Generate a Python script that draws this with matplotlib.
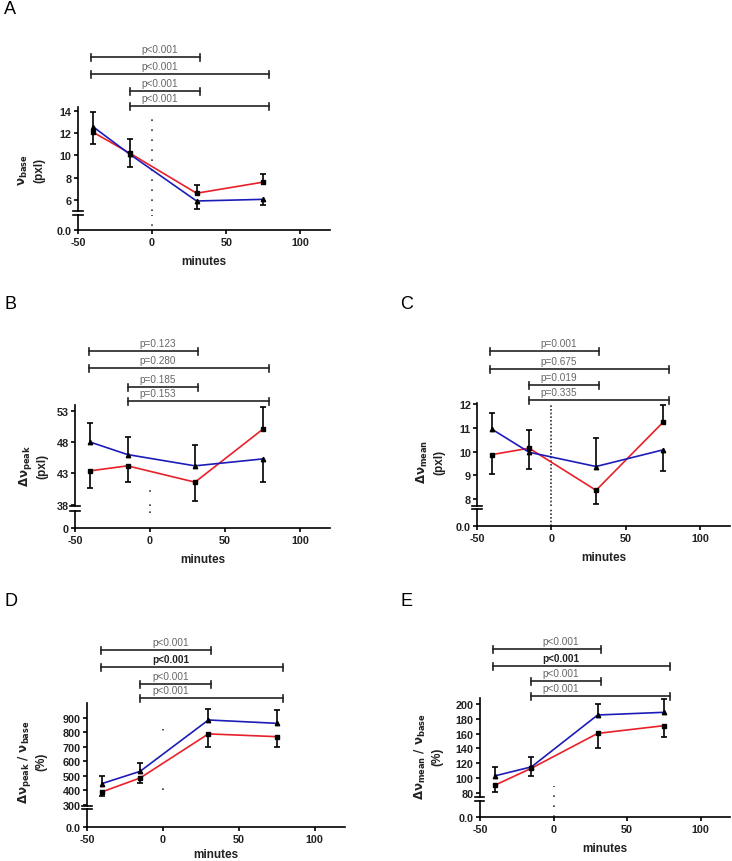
import numpy as np
import matplotlib.pyplot as plt
from matplotlib.transforms import blended_transform_factory

plt.rcParams['font.family'] = ['Liberation Sans', 'DejaVu Sans']
plt.rcParams['mathtext.fontset'] = 'dejavusans'

W, H = 732, 862

# time points (minutes)
times = [-40, -15, 30, 75]
bracket_pairs = [(-41, 32), (-41, 79), (-15, 32), (-15, 79)]

# A: v_base
base_blue = [12.6, 10.1, 5.9, 6.05]
base_red = [12.1, 10.2, 6.6, 7.6]
base_blue_err = [1.3, 1.1, 0.7, 0.5]
base_red_err = [1.1, 1.3, 0.7, 0.7]
base_p = ["p<0.001", "p<0.001", "p<0.001", "p<0.001"]

# B: delta v_peak
peak_blue = [48.0, 46.0, 44.2, 45.3]
peak_red = [43.4, 44.2, 41.6, 50.0]
peak_blue_err = [3.0, 2.8, 3.3, 3.6]
peak_red_err = [2.8, 2.6, 3.0, 3.6]
peak_p = ["p=0.123", "p=0.280", "p=0.185", "p=0.153"]

# C: delta v_mean
mean_blue = [10.94, 9.97, 9.37, 10.07]
mean_red = [9.87, 10.14, 8.37, 11.23]
mean_blue_err = [0.68, 0.7, 1.19, 0.87]
mean_red_err = [0.8, 0.76, 0.58, 0.73]
mean_p = ["p=0.001", "p=0.675", "p=0.019", "p=0.335"]

# D: delta v_peak / v_base (%)
peak_rel_blue = [448, 532, 886, 863]
peak_rel_red = [391, 486, 790, 771]
peak_rel_blue_err = [54, 55, 76, 92]
peak_rel_red_err = [31, 34, 92, 69]
peak_rel_p = ["p<0.001", "p<0.001", "p<0.001", "p<0.001"]

# E: delta v_mean / v_base (%)
mean_rel_blue = [103, 115.2, 185.1, 188.7]
mean_rel_red = [90.4, 113.4, 160.3, 170.7]
mean_rel_blue_err = [12, 13.5, 15, 18]
mean_rel_red_err = [8.4, 10.4, 19, 15]
mean_rel_p = ["p<0.001", "p<0.001", "p<0.001", "p<0.001"]

BLUE = '#1c1cb8'
RED = '#e8202a'
TICK_FS = 7.8


def fig_rect(left, right, top, bottom):
    return [left / W, 1 - bottom / H, (right - left) / W, (bottom - top) / H]


def break_mark(ax, y):
    ax.plot([-0.018, 0.018], [y, y], transform=ax.transAxes, color='black',
            lw=1.2, clip_on=False)


def draw_series(ax, y, err, up, color, marker):
    y = np.array(y, dtype=float)
    err = np.array(err, dtype=float)
    ends = np.where(up, y + err, y - err)
    ax.vlines(times, y, ends, color='black', lw=1.2, zorder=3)
    ax.plot(times, ends, ls='none', marker='_', ms=5, mew=1.2, color='black', zorder=3)
    ax.plot(times, y, color=color, lw=1.2, zorder=2)
    ax.plot(times, y, ls='none', marker=marker, ms=3.2, color='black', zorder=4)


def draw_panel(fig, letter, letter_xy, xpx, top_px, bot_px, ylim, yticks, zero_label,
               ylabel, ylabel_xy, blue, red, blue_err, red_err, pvals, bracket_y,
               dots_top=None, dots_bot=None, dot_style=':', bold_p=(), xlabelpad=6):
    ax = fig.add_axes(fig_rect(xpx[0], xpx[1], top_px[0], top_px[1]))
    axb = fig.add_axes(fig_rect(xpx[0], xpx[1], bot_px[0], bot_px[1]))

    for a in (ax, axb):
        a.set_xlim(-50, 120)
        a.patch.set_alpha(0)
        for s in ('top', 'right'):
            a.spines[s].set_visible(False)
        a.spines['left'].set_linewidth(1.2)
        a.tick_params(axis='y', length=3, width=1.2, labelsize=TICK_FS, pad=1.5)

    ax.spines['bottom'].set_visible(False)
    ax.set_xticks([])
    ax.set_ylim(*ylim)
    ax.set_yticks(yticks)
    ax.set_yticklabels([str(t) for t in yticks], fontweight='bold', fontsize=TICK_FS, color='#222222')

    axb.set_ylim(0, 1)
    axb.set_yticks([0])
    axb.set_yticklabels([zero_label], fontweight='bold', fontsize=TICK_FS, color='#222222')
    axb.spines['bottom'].set_linewidth(1.2)
    axb.set_xticks([-50, 0, 50, 100])
    axb.set_xticklabels(['-50', '0', '50', '100'], fontweight='bold', fontsize=TICK_FS, color='#222222')
    axb.tick_params(axis='x', length=3, width=1.2, pad=2)
    axb.set_xlabel('minutes', fontweight='bold', fontsize=8.5, labelpad=xlabelpad, color='#222222')

    break_mark(ax, 0)
    break_mark(axb, 1)

    # reference line at time 0
    if dots_top is not None:
        ax.vlines(0, dots_top[0], dots_top[1], color='#333333', lw=1.2, linestyles=dot_style, zorder=1)
    if dots_bot is not None:
        axb.vlines(0, dots_bot[0], dots_bot[1], color='#333333', lw=1.2, linestyles=dot_style, zorder=1)

    up = np.array(blue) >= np.array(red)
    draw_series(ax, red, red_err, ~up, RED, 's')
    draw_series(ax, blue, blue_err, up, BLUE, '^')

    # significance brackets
    tr = blended_transform_factory(ax.transData, fig.transFigure)
    cap = 3.5 / H
    for i, ((x1, x2), yp, p) in enumerate(zip(bracket_pairs, bracket_y, pvals)):
        yf = 1 - yp / H
        ax.plot([x1, x2], [yf, yf], transform=tr, color='#222222', lw=1.2, clip_on=False)
        ax.plot([x1, x1], [yf - cap, yf + cap], transform=tr, color='#222222', lw=1.2, clip_on=False)
        ax.plot([x2, x2], [yf - cap, yf + cap], transform=tr, color='#222222', lw=1.2, clip_on=False)
        ax.text(5, yf + 3 / H, p, transform=tr, ha='center', va='bottom', fontsize=7.2,
                color='#222222' if i in bold_p else '#666666',
                fontweight='bold' if i in bold_p else 'normal')

    fig.text(letter_xy[0] / W, 1 - letter_xy[1] / H, letter, fontsize=13, ha='left', va='center')
    fig.text(ylabel_xy[0] / W, 1 - ylabel_xy[1] / H, ylabel, rotation=90, ha='center', va='center',
             multialignment='center', fontsize=8.5, fontweight='bold', color='#222222', linespacing=1.3)


fig = plt.figure(figsize=(W / 100, H / 100), dpi=100)

draw_panel(fig, 'A', (4, 10), (78, 330), (108, 212), (216, 231), (5.0, 14.36), [6, 8, 10, 12, 14], '0.0',
           r'$\mathbf{\nu_{base}}$' + '\n(pxl)', (31, 170),
           base_blue, base_red, base_blue_err, base_red_err, base_p, [58, 75, 92, 107],
           dots_top=(5.0, 14.0), dots_bot=(0.27, 1), dot_style=(0, (1, 5)))

draw_panel(fig, 'B', (4, 305), (75, 330), (406, 507), (512, 529), (37.8, 53.9), [38, 43, 48, 53], '0',
           r'$\mathbf{\Delta\nu_{peak}}$' + '\n(pxl)', (33, 466),
           peak_blue, peak_red, peak_blue_err, peak_red_err, peak_p, [352, 369, 388, 402],
           dots_top=(37.8, 42.0), dots_bot=(0.9, 1), dot_style=(0, (1, 7.5)))

draw_panel(fig, 'C', (400, 305), (477, 730), (404, 507), (510, 527), (7.71, 12.04), [8, 9, 10, 11, 12], '0.0',
           r'$\mathbf{\Delta\nu_{mean}}$' + '\n(pxl)', (430, 462),
           mean_blue, mean_red, mean_blue_err, mean_red_err, mean_p, [352, 370, 386, 401],
           dots_top=(7.71, 12.0), dots_bot=(0, 1), dot_style=(0, (1, 1.2)))

draw_panel(fig, 'D', (4, 601), (87, 345), (704, 807), (810, 828), (293, 1003),
           [300, 400, 500, 600, 700, 800, 900], '0.0',
           r'$\mathbf{\Delta\nu_{peak}\ /\ \nu_{base}}$' + '\n(%)', (32, 762),
           peak_rel_blue, peak_rel_red, peak_rel_blue_err, peak_rel_red_err, peak_rel_p,
           [651, 668, 685, 699],
           dots_top=(400, 822), dot_style=(0, (1, 34.75)), bold_p=(1,), xlabelpad=3)

draw_panel(fig, 'E', (400, 601), (480, 730), (699, 798), (802, 818), (74.6, 208),
           [80, 100, 120, 140, 160, 180, 200], '0.0',
           r'$\mathbf{\Delta\nu_{mean}\ /\ \nu_{base}}$' + '\n(%)', (428, 757),
           mean_rel_blue, mean_rel_red, mean_rel_blue_err, mean_rel_red_err, mean_rel_p,
           [650, 667, 682, 697],
           dots_top=(74.6, 90), dots_bot=(0, 1), dot_style=(0, (1, 5)), bold_p=(1,))

fig.savefig('out.png', dpi=100)
